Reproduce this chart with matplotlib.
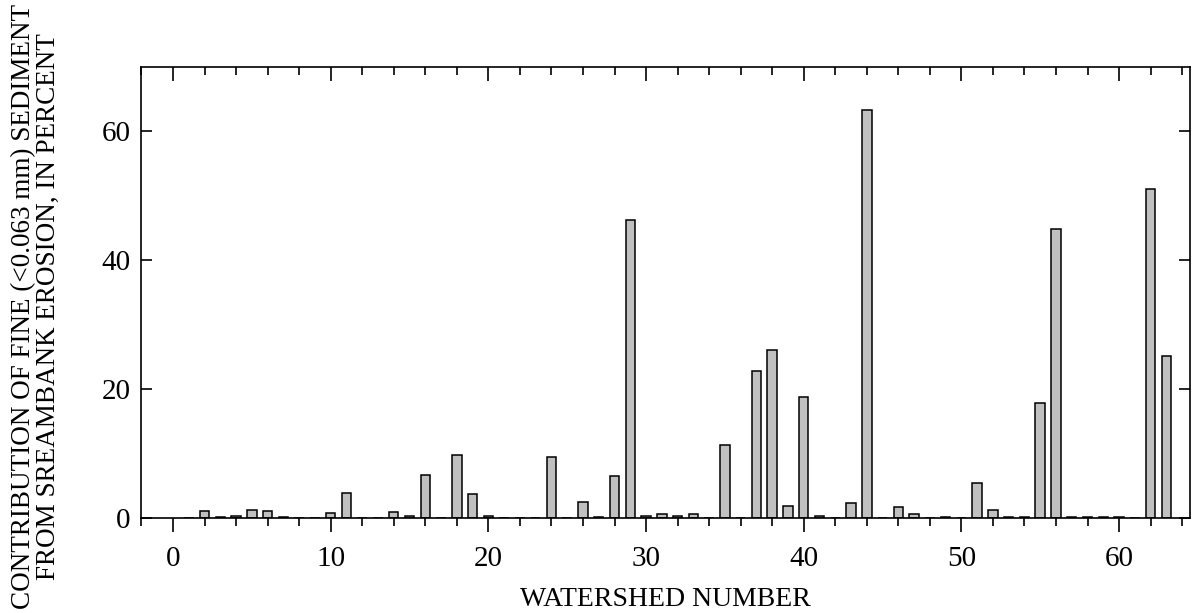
import matplotlib
matplotlib.use('Agg')
import matplotlib.pyplot as plt
from matplotlib.ticker import MultipleLocator

plt.rcParams['font.family'] = ['Liberation Serif', 'DejaVu Serif']

# watershed number and percent contribution from streambank erosion
watershed = list(range(1, 64))
percent = [0.0, 1.1, 0.2, 0.26, 1.25, 1.1, 0.2, 0.05, 0.0, 0.8,
           3.9, 0.0, 0.0, 1.0, 0.36, 6.6, 0.0, 9.7, 3.65, 0.26,
           0.0, 0.05, 0.0, 9.45, 0.05, 2.5, 0.2, 6.45, 46.2, 0.36,
           0.57, 0.36, 0.67, 0.0, 11.25, 0.0, 22.8, 26.0, 1.9, 18.8,
           0.26, 0.0, 2.4, 63.3, 0.0, 1.75, 0.62, 0.0, 0.1, 0.0,
           5.4, 1.25, 0.2, 0.2, 17.8, 44.8, 0.1, 0.2, 0.1, 0.1,
           0.0, 51.0, 25.2]

xticklabels = ['0', '10', '20', '30', '40', '50', '60']
yticks = [0, 20, 40, 60]

fig = plt.figure(figsize=(11.99, 6.13), dpi=100)
ax = fig.add_axes([0.118, 0.155, 0.8745, 0.736])

ax.bar(watershed, percent, width=0.6, color='#c0c0c0', edgecolor='black', linewidth=1.1)

ax.set_xlim(-2, 64.5)
ax.set_ylim(0, 70)
ax.set_xticks([0, 10, 20, 30, 40, 50, 60])
ax.set_xticklabels(xticklabels)
ax.xaxis.set_minor_locator(MultipleLocator(2))
ax.set_yticks(yticks)

ax.tick_params(axis='x', which='major', direction='out', length=10, width=1.2,
               top=True, labelsize=21, pad=10)
ax.tick_params(axis='x', which='minor', direction='out', length=6, width=1.2, top=True)
ax.tick_params(axis='y', which='major', direction='in', length=8, width=1.2,
               right=True, labelsize=21, pad=8)
for t in ax.xaxis.get_major_ticks() + ax.xaxis.get_minor_ticks():
    t.tick2line.set_marker(3)  # top ticks point into the plot
for sp in ax.spines.values():
    sp.set_linewidth(1.2)

ax.set_xlabel('WATERSHED NUMBER', fontsize=20, labelpad=11)
fig.text(0.03, 0.5, 'CONTRIBUTION OF FINE (<0.063 mm) SEDIMENT\nFROM SREAMBANK EROSION, IN PERCENT',
         rotation=90, ha='center', va='center', multialignment='center', fontsize=19.5,
         linespacing=1.0)

fig.savefig('out.png', dpi=100)
